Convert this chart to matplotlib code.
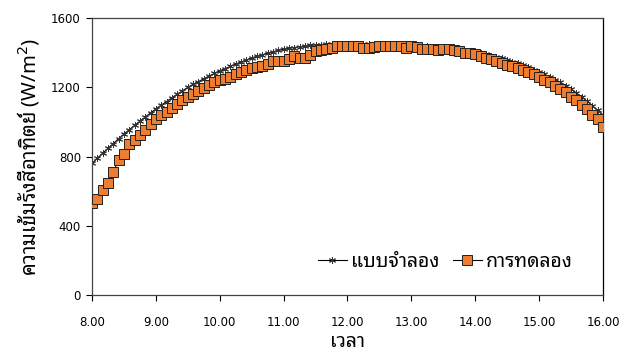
import numpy as np
import matplotlib
matplotlib.use('Agg')
import matplotlib.pyplot as plt

# hours, 5 minute steps from 8.00 to 16.00
time_h = np.arange(97) / 12 + 8

sim = [760, 790, 819, 847, 875, 903, 930, 955, 980, 1004,
       1028, 1052, 1075, 1097, 1118, 1139, 1160, 1180, 1200, 1217,
       1233, 1249, 1265, 1280, 1295, 1308, 1321, 1334, 1346, 1358,
       1370, 1379, 1388, 1397, 1405, 1413, 1420, 1425, 1430, 1434,
       1438, 1442, 1445, 1447, 1449, 1450, 1451, 1452, 1452, 1453,
       1453, 1453, 1453, 1453, 1452, 1451, 1450, 1449, 1447, 1446,
       1444, 1442, 1439, 1437, 1434, 1431, 1428, 1424, 1420, 1416,
       1411, 1406, 1401, 1396, 1390, 1383, 1375, 1367, 1358, 1348,
       1338, 1327, 1315, 1303, 1290, 1276, 1261, 1245, 1228, 1210,
       1190, 1168, 1145, 1120, 1094, 1067, 1040]

exp = [530, 555, 605, 650, 712, 780, 813, 872, 895, 925,
       952, 988, 1015, 1043, 1060, 1080, 1105, 1125, 1145, 1162,
       1180, 1195, 1212, 1228, 1240, 1248, 1262, 1275, 1288, 1300,
       1312, 1320, 1326, 1332, 1350, 1353, 1353, 1362, 1380, 1372,
       1368, 1385, 1408, 1415, 1422, 1426, 1439, 1441, 1441, 1441,
       1438, 1426, 1426, 1432, 1439, 1439, 1441, 1441, 1438, 1430,
       1436, 1432, 1424, 1422, 1420, 1413, 1420, 1420, 1418, 1410,
       1400, 1397, 1392, 1382, 1372, 1362, 1352, 1342, 1331, 1321,
       1311, 1300, 1290, 1275, 1260, 1245, 1228, 1208, 1192, 1171,
       1147, 1124, 1100, 1075, 1040, 1016, 970]

x_ticks = [8, 9, 10, 11, 12, 13, 14, 15, 16]
y_ticks = [0, 400, 800, 1200, 1600]

thai_font = ['Noto Sans Thai Looped', 'Loma', 'DejaVu Sans']
plt.rcParams['font.family'] = ['DejaVu Sans']

fig = plt.figure(figsize=(6.32, 3.55), dpi=100)
ax = fig.add_axes([0.1456, 0.169, 0.8084, 0.780])

ax.plot(time_h, sim, color='black', lw=0.8, marker=(6, 2, 0), ms=5,
        mew=0.7, mec='#333333', label='แบบจำลอง', zorder=2)
ax.plot(time_h, exp, color='black', lw=0.8, marker='s', ms=6.5,
        mfc='#ED7D31', mec='#222222', mew=0.7, label='การทดลอง', zorder=3)

ax.set_xlim(8, 16)
ax.set_ylim(0, 1600)
ax.set_xticks(x_ticks)
ax.set_xticklabels([f'{t:.2f}' for t in x_ticks])
ax.set_yticks(y_ticks)
ax.tick_params(direction='out', length=4, width=0.8, labelsize=8.5,
               colors='black', pad=4)
ax.tick_params(axis='x', pad=11)
for s in ax.spines.values():
    s.set_linewidth(0.9)
    s.set_color('#444444')
ax.spines['right'].set_color('black')

ax.set_xlabel('เวลา', fontsize=14, labelpad=2, family=thai_font)
ax.set_ylabel('ความเข้มรังสีอาทิตย์ (W/m$^2$)', fontsize=14.5, labelpad=7,
              family=thai_font)

ax.legend(loc='lower right', bbox_to_anchor=(0.975, 0.02), ncol=2,
          frameon=False, prop={'family': thai_font, 'size': 14},
          handlelength=1.5, handletextpad=0.2, columnspacing=0.7)

fig.savefig('out.png', dpi=100)
